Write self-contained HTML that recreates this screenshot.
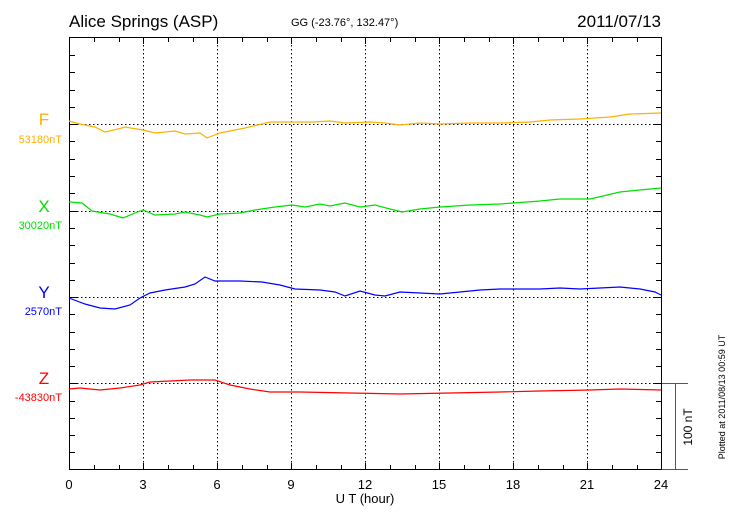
<!DOCTYPE html>
<html><head><meta charset="utf-8"><style>body{margin:0;background:#fff}svg{display:block}text{font-family:"Liberation Sans",sans-serif}</style></head><body>
<svg width="730" height="520" xmlns="http://www.w3.org/2000/svg">
<text x="69" y="27" font-size="17">Alice Springs (ASP)</text>
<text x="291" y="26" font-size="11">GG (-23.76°, 132.47°)</text>
<text x="661" y="27" font-size="17" text-anchor="end">2011/07/13</text>
<g stroke="#000" stroke-width="1" stroke-dasharray="1.5,2.5" fill="none">
<line x1="143.5" y1="37" x2="143.5" y2="470"/><line x1="217.5" y1="37" x2="217.5" y2="470"/><line x1="291.5" y1="37" x2="291.5" y2="470"/><line x1="365.5" y1="37" x2="365.5" y2="470"/><line x1="439.5" y1="37" x2="439.5" y2="470"/><line x1="513.5" y1="37" x2="513.5" y2="470"/><line x1="587.5" y1="37" x2="587.5" y2="470"/>
<line x1="69" y1="124.5" x2="662" y2="124.5"/><line x1="69" y1="211.5" x2="662" y2="211.5"/><line x1="69" y1="297.5" x2="662" y2="297.5"/><line x1="69" y1="383.5" x2="662" y2="383.5"/>
</g>
<rect x="69.5" y="37.5" width="592" height="432" fill="none" stroke="#000"/>
<g stroke="#000" id="t">
<path d="M94.5 38v4M119.5 38v4M143.5 38v6M168.5 38v4M193.5 38v4M217.5 38v6M242.5 38v4M267.5 38v4M291.5 38v6M316.5 38v4M341.5 38v4M365.5 38v6M390.5 38v4M415.5 38v4M439.5 38v6M464.5 38v4M489.5 38v4M513.5 38v6M538.5 38v4M563.5 38v4M587.5 38v6M612.5 38v4M637.5 38v4"/>
<path d="M94.5 469v-4M119.5 469v-4M143.5 469v-6M168.5 469v-4M193.5 469v-4M217.5 469v-6M242.5 469v-4M267.5 469v-4M291.5 469v-6M316.5 469v-4M341.5 469v-4M365.5 469v-6M390.5 469v-4M415.5 469v-4M439.5 469v-6M464.5 469v-4M489.5 469v-4M513.5 469v-6M538.5 469v-4M563.5 469v-4M587.5 469v-6M612.5 469v-4M637.5 469v-4"/>
<path d="M70 55.5h5M70 72.5h5M70 90.5h5M70 107.5h5M70 124.5h7M70 141.5h5M70 159.5h5M70 176.5h5M70 193.5h5M70 211.5h7M70 228.5h5M70 245.5h5M70 263.5h5M70 280.5h5M70 297.5h7M70 314.5h5M70 332.5h5M70 349.5h5M70 366.5h5M70 383.5h7M70 401.5h5M70 418.5h5M70 435.5h5M70 452.5h5"/>
<path d="M661 55.5h-5M661 72.5h-5M661 90.5h-5M661 107.5h-5M661 124.5h-7M661 141.5h-5M661 159.5h-5M661 176.5h-5M661 193.5h-5M661 211.5h-7M661 228.5h-5M661 245.5h-5M661 263.5h-5M661 280.5h-5M661 297.5h-7M661 314.5h-5M661 332.5h-5M661 349.5h-5M661 366.5h-5M661 383.5h-7M661 401.5h-5M661 418.5h-5M661 435.5h-5M661 452.5h-5"/>
<path d="M662 383.5h26M662 469.5h26M675.5 383v87" stroke="#555"/>
</g>
<g fill="none" stroke-width="1.2">
<polyline stroke="#ffb000" points="69,121 80,124 95,127 105,132 118,129 125,127 143,130 155,133 175,131 185,134 200,133 207,138 220,133 245,128 270,122 290,122 313,122 330,121 345,123 370,122 385,123 400,125 420,123 440,124 470,123 500,123 530,122 550,120 580,119 610,117 630,114 661,113"/>
<polyline stroke="#00e000" points="69,202 82,203 92,211 110,214 123,218 135,213 143,210 155,215 175,214 185,212 200,215 207,217 220,214 240,213 255,210 275,207 292,205 305,207 320,204 330,206 345,203 360,207 375,205 390,209 402,212 420,209 440,207 470,205 500,204 540,201 560,199 590,199 620,192 640,190 661,188"/>
<polyline stroke="#0000ff" points="69,298 85,304 100,308 115,309 130,305 140,298 150,293 165,290 185,287 195,284 205,277 215,281 240,281 262,282 280,285 295,289 320,290 335,292 345,296 360,291 375,295 385,296 400,292 420,293 440,294 460,292 480,290 500,289 520,289 540,289 560,288 580,289 600,288 620,287 640,289 655,292 661,295"/>
<polyline stroke="#ff0000" points="69,389 80,388 100,390 120,388 140,385 150,382 170,381 190,380 215,380 230,385 250,389 270,392 300,392 350,393 400,394 450,393 500,392 540,391 590,390 620,389 661,390"/>
</g>
<text x="44" y="125" font-size="17" fill="#ffb000" text-anchor="middle">F</text>
<text x="62" y="143" font-size="11" fill="#ffb000" text-anchor="end">53180nT</text>
<text x="44" y="212" font-size="17" fill="#00e000" text-anchor="middle">X</text>
<text x="62" y="229" font-size="11" fill="#00e000" text-anchor="end">30020nT</text>
<text x="44" y="298" font-size="17" fill="#0000ff" text-anchor="middle">Y</text>
<text x="62" y="315" font-size="11" fill="#0000ff" text-anchor="end">2570nT</text>
<text x="44" y="384" font-size="17" fill="#ff0000" text-anchor="middle">Z</text>
<text x="62" y="401" font-size="11" fill="#ff0000" text-anchor="end">-43830nT</text>
<g font-size="13" text-anchor="middle">
<text x="69" y="489">0</text><text x="143" y="489">3</text><text x="217" y="489">6</text><text x="291" y="489">9</text><text x="365" y="489">12</text><text x="439" y="489">15</text><text x="513" y="489">18</text><text x="587" y="489">21</text><text x="661" y="489">24</text>
<text x="365" y="503">U T (hour)</text>
</g>
<text transform="translate(692,427) rotate(-90)" font-size="12" text-anchor="middle">100 nT</text>
<text transform="translate(725,397) rotate(-90)" font-size="9" text-anchor="middle">Plotted at 2011/08/13 00:59 UT</text>
</svg>
</body></html>
